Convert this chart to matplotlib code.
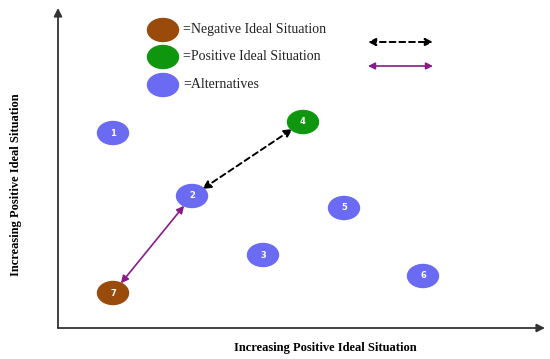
import matplotlib.pyplot as plt
from matplotlib.patches import Ellipse

# alternatives (position in chart units, origin at axis corner)
labels = ['1', '2', '3', '4', '5', '6', '7']
xs = [55, 134, 205, 245, 286, 365, 55]
ys = [195, 132, 73, 206, 120, 52, 35]
kinds = ['alt', 'alt', 'alt', 'pos', 'alt', 'alt', 'neg']

legend_labels = ['=Negative Ideal Situation', '=Positive Ideal Situation', '=Alternatives']

colors = {'neg': '#9a4b0c', 'pos': '#0e970e', 'alt': '#6a6af2'}
purple = '#8a1a8a'

fig = plt.figure(figsize=(5.5, 3.59), dpi=100)
W, H = 550, 359
x0, y0 = 58, 328
ax = fig.add_axes([x0 / W, (H - y0) / H, (W - x0) / W, y0 / H])
ax.set_xlim(0, W - x0)
ax.set_ylim(0, y0)
ax.axis('off')

# axis arrows
ax.annotate('', xy=(0, 320), xytext=(0, 0),
            arrowprops=dict(arrowstyle='-|>', color='#333333', lw=1.3, mutation_scale=12,
                            shrinkA=0, shrinkB=0), annotation_clip=False)
ax.annotate('', xy=(487, 0), xytext=(0, 0),
            arrowprops=dict(arrowstyle='-|>', color='#333333', lw=1.3, mutation_scale=12,
                            shrinkA=0, shrinkB=0), annotation_clip=False)

# points
for lab, x, y, k in zip(labels, xs, ys, kinds):
    ax.add_patch(Ellipse((x, y), 31, 23, color=colors[k], zorder=3))
    ax.text(x, y, lab, color='white', fontsize=6, fontweight='bold',
            ha='center', va='center', zorder=4)

# distance arrows: 7 <-> 2 (solid purple), 2 <-> 4 (dashed black)
i2, i4, i7 = labels.index('2'), labels.index('4'), labels.index('7')
ax.annotate('', xy=(xs[i2], ys[i2]), xytext=(xs[i7], ys[i7]),
            arrowprops=dict(arrowstyle='<|-|>', color=purple, lw=1.2, mutation_scale=11,
                            shrinkA=9, shrinkB=9), zorder=2)
ax.annotate('', xy=(xs[i4], ys[i4]), xytext=(xs[i2], ys[i2]),
            arrowprops=dict(arrowstyle='<|-|>', color='black', lw=1.4, ls=(0, (3, 2)),
                            mutation_scale=12, shrinkA=9, shrinkB=9), zorder=2)

# legend
leg_y = [298, 271, 243]
leg_c = [colors['neg'], colors['pos'], colors['alt']]
for lab, ly, c in zip(legend_labels, leg_y, leg_c):
    ax.add_patch(Ellipse((105, ly), 31, 23, color=c, zorder=3, clip_on=False))
    ax.text(125, ly + 1, lab, fontsize=10, family='Liberation Serif',
            ha='left', va='center', color='#222222')
ax.annotate('', xy=(375, 286), xytext=(310, 286),
            arrowprops=dict(arrowstyle='<|-|>', color='black', lw=1.4, ls=(0, (3, 2)),
                            mutation_scale=11, shrinkA=0, shrinkB=0))
ax.annotate('', xy=(375, 262), xytext=(310, 262),
            arrowprops=dict(arrowstyle='<|-|>', color=purple, lw=1.2,
                            mutation_scale=10, shrinkA=0, shrinkB=0))

fig.text(325 / W, 1 - 348 / H, 'Increasing Positive Ideal Situation', fontsize=9,
         fontweight='bold', family='Liberation Serif', ha='center', va='center')
fig.text(16 / W, 1 - 185 / H, 'Increasing Positive Ideal Situation', fontsize=9,
         fontweight='bold', family='Liberation Serif', ha='center', va='center',
         rotation=90, stretch='condensed')

fig.savefig('out.png', dpi=100)
